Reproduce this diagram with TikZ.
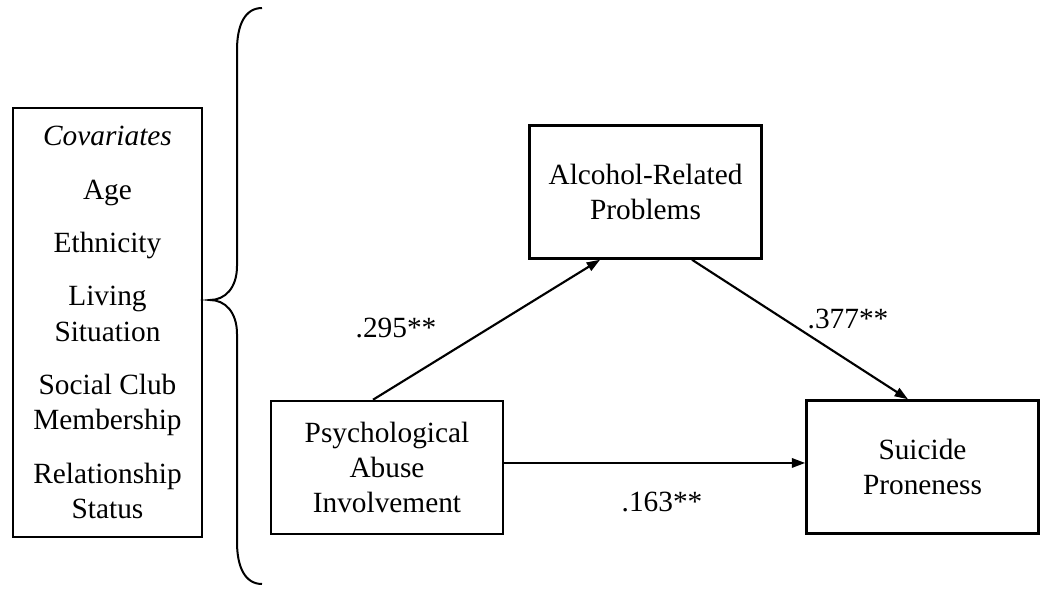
\documentclass[tikz,border=0pt]{standalone}
\usepackage{fontspec}
\setmainfont{Liberation Serif}
\usetikzlibrary{arrows.meta}
\begin{document}
\begin{tikzpicture}[x=0.75pt,y=-0.75pt,
  box/.style={draw,line width=1.9pt,align=center,inner sep=0pt,font=\fontsize{22}{26.5}\selectfont},
  lbl/.style={font=\fontsize{22}{26.5}\selectfont,inner sep=0pt,anchor=base},
  arr/.style={line width=1.6pt,-{Triangle[length=10pt,width=7pt]}}]
\useasboundingbox (0,0) rectangle (1050,603);
\node[box,minimum width=141.75pt,minimum height=321.75pt] (cov) at (107.5,322.5)
 {\textit{Covariates}\\[13.5pt] Age\\[13.5pt] Ethnicity\\[13.5pt] Living\\ Situation\\[13.5pt] Social Club\\ Membership\\[13.5pt] Relationship\\ Status};
\node[box,minimum width=174pt,minimum height=99.75pt] (pai) at (387,467.5) {Psychological\\ Abuse\\ Involvement};
\node[box,minimum width=174pt,minimum height=99.75pt] (alc) at (645.5,192) {Alcohol-Related\\ Problems};
\node[box,minimum width=174pt,minimum height=99.75pt] (sui) at (922.5,467) {Suicide\\ Proneness};
\draw[arr] ([xshift=-10.5pt]pai.north) -- ([xshift=-34.1pt]alc.south);
\draw[arr] ([xshift=34.9pt]alc.south) -- ([xshift=-10.9pt]sui.north);
\draw[arr] ([yshift=3.4pt]pai.east) -- ([yshift=3.4pt]pai.east -| sui.west);
\node[lbl] (l1) at (396,337) {.295**};
\node[lbl] (l2) at (848,328) {.377**};
\node[lbl] (l3) at (662,511) {.163**};
\draw[line width=1.5pt] (262,8) .. controls (245,8) and (237,25) .. (237,50) -- (237,266)
  .. controls (237,288) and (225,300) .. (210,300)
  .. controls (225,300) and (237,312) .. (237,334) -- (237,542)
  .. controls (237,567) and (245,584) .. (262,584);
\end{tikzpicture}
\end{document}
